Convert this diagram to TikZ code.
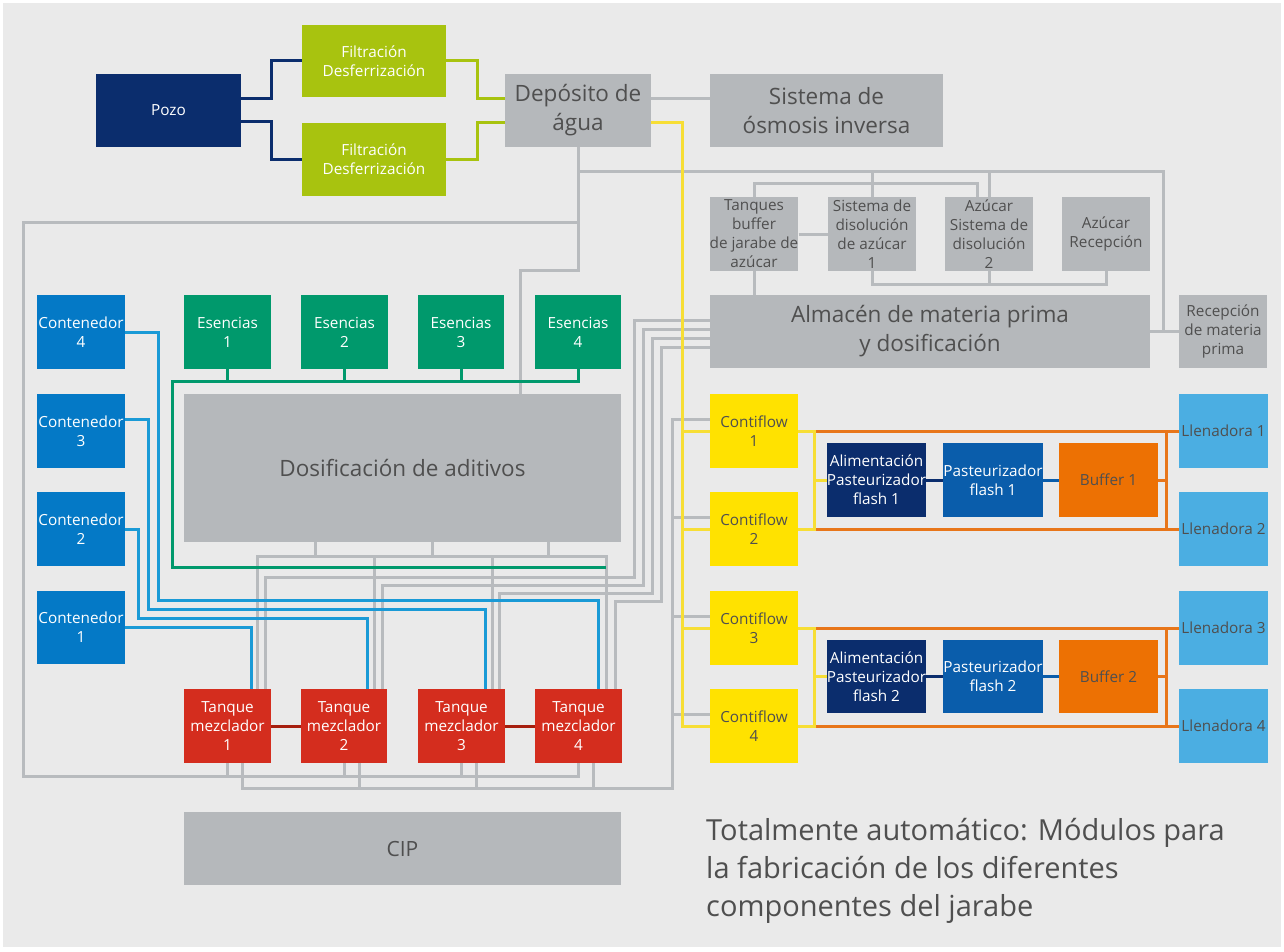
\documentclass[tikz,border=0pt]{standalone}
\usepackage{fontspec}
\setmainfont{Open Sans}
\definecolor{bgc}{HTML}{EAEAEA}
\definecolor{boxgray}{HTML}{B5B8BB}
\definecolor{linegray}{HTML}{B8BBBE}
\definecolor{txtgray}{HTML}{4F4F4F}
\definecolor{navy}{HTML}{0B2D6D}
\definecolor{lime}{HTML}{A8C30F}
\definecolor{esgreen}{HTML}{00996C}
\definecolor{contblue}{HTML}{0479C6}
\definecolor{pipeblue}{HTML}{1A9AD6}
\definecolor{tankred}{HTML}{D42D1E}
\definecolor{darkred}{HTML}{A61E0E}
\definecolor{cfyellow}{HTML}{FFE200}
\definecolor{pipeyellow}{HTML}{F7DE35}
\definecolor{orng}{HTML}{ED7103}
\definecolor{pipeorange}{HTML}{E8761A}
\definecolor{pastblue}{HTML}{0A5DAB}
\definecolor{fillblue}{HTML}{4BAEE2}
\newcommand\bx[7]{\node[#2, minimum width={(#5)-(#3)}, minimum height={(#6)-(#4)}] (#1) at ({((#3)+(#5))/2},{((#4)+(#6))/2}) {#7};}
\tikzset{
  box/.style={rectangle, inner sep=0pt, align=center, font=\fontsize{15.3}{19}\selectfont},
  wbox/.style={box, text=white},
  gbox/.style={box, fill=boxgray, text=txtgray},
  ybox/.style={box, fill=cfyellow, text=txtgray},
  bigtext/.style={font=\fontsize{22.5}{29}\selectfont},
  pipe/.style={line width=3pt},
  gpipe/.style={pipe, draw=linegray},
}
\begin{document}
\begin{tikzpicture}[x=1pt,y=-1pt]
\useasboundingbox (0,0) rectangle (1284,952);
\fill[white] (0,0) rectangle (1284,952);
\fill[bgc] (3,3) rectangle (1281,947);

% nodes
\bx{pozo}{wbox,fill=navy}{96}{74}{241}{147}{Pozo}
\bx{filta}{wbox,fill=lime}{302}{25}{446}{97}{Filtración\\Desferrización}
\bx{filtb}{wbox,fill=lime}{302}{123}{446}{196}{Filtración\\Desferrización}
\bx{dep}{gbox,bigtext}{505}{74}{651}{147}{Depósito de\\água}
\bx{osm}{gbox,bigtext}{710}{74}{943}{147}{Sistema de\\ósmosis inversa}
\bx{tb}{gbox}{710}{197}{798}{271}{Tanques\\buffer\\de jarabe de\\azúcar}
\bx{sisa}{gbox}{828}{197}{916}{271}{Sistema de\\disolución\\de azúcar\\1}
\bx{sisb}{gbox}{945}{197}{1033}{271}{Azúcar\\Sistema de\\disolución\\2}
\bx{azrec}{gbox}{1062}{197}{1150}{271}{Azúcar\\Recepción}
\bx{alm}{gbox,bigtext}{710}{295}{1150}{368}{Almacén de materia prima\\y dosificación}
\bx{rec}{gbox}{1179}{295}{1267}{368}{Recepción\\de materia\\prima}

\bx{cd}{wbox,fill=contblue}{37}{295}{125}{369}{Contenedor\\4}
\bx{cc}{wbox,fill=contblue}{37}{394}{125}{468}{Contenedor\\3}
\bx{cb}{wbox,fill=contblue}{37}{492}{125}{566}{Contenedor\\2}
\bx{ca}{wbox,fill=contblue}{37}{591}{125}{664}{Contenedor\\1}

\bx{ea}{wbox,fill=esgreen}{184}{295}{271}{369}{Esencias\\1}
\bx{eb}{wbox,fill=esgreen}{301}{295}{388}{369}{Esencias\\2}
\bx{ec}{wbox,fill=esgreen}{418}{295}{504}{369}{Esencias\\3}
\bx{ed}{wbox,fill=esgreen}{535}{295}{621}{369}{Esencias\\4}

\bx{dosif}{gbox,bigtext}{184}{394}{621}{542}{Dosificación de aditivos}

\bx{ta}{wbox,fill=tankred}{184}{689}{271}{763}{Tanque\\mezclador\\1}
\bx{tbb}{wbox,fill=tankred}{301}{689}{387}{763}{Tanque\\mezclador\\2}
\bx{tc}{wbox,fill=tankred}{418}{689}{505}{763}{Tanque\\mezclador\\3}
\bx{td}{wbox,fill=tankred}{535}{689}{622}{763}{Tanque\\mezclador\\4}

\bx{cip}{gbox,font=\fontsize{21}{26}\selectfont}{184}{812}{621}{885}{CIP}

\bx{cfa}{ybox}{710}{394}{798}{468}{Contiflow\\1}
\bx{cfb}{ybox}{710}{492}{798}{566}{Contiflow\\2}
\bx{cfc}{ybox}{710}{591}{798}{665}{Contiflow\\3}
\bx{cfd}{ybox}{710}{689}{798}{763}{Contiflow\\4}

\bx{aa}{wbox,fill=navy}{827}{443}{926}{517}{Alimentación\\Pasteurizador\\flash 1}
\bx{pa}{wbox,fill=pastblue}{944}{443}{1042}{517}{Pasteurizador\\flash 1}
\bx{ba}{box,fill=orng,text=txtgray}{1059}{443}{1158}{517}{Buffer 1}
\bx{ab}{wbox,fill=navy}{827}{640}{926}{713}{Alimentación\\Pasteurizador\\flash 2}
\bx{pb}{wbox,fill=pastblue}{944}{640}{1042}{713}{Pasteurizador\\flash 2}
\bx{bb}{box,fill=orng,text=txtgray}{1059}{640}{1158}{713}{Buffer 2}

\bx{la}{box,fill=fillblue,text=txtgray}{1179}{394}{1268}{468}{Llenadora 1}
\bx{lb}{box,fill=fillblue,text=txtgray}{1179}{492}{1268}{566}{Llenadora 2}
\bx{lc}{box,fill=fillblue,text=txtgray}{1179}{591}{1268}{665}{Llenadora 3}
\bx{ld}{box,fill=fillblue,text=txtgray}{1179}{689}{1268}{763}{Llenadora 4}

\node[anchor=north west, inner sep=0pt, align=left, text=txtgray,
      font=\fontsize{29}{38}\selectfont] (note) at (706,818)
  {Totalmente automático: Módulos para\\la fabricación de los diferentes\\componentes del jarabe};

\coordinate (gend) at (606,567);

% gray pipes
\begin{scope}[gpipe]
\draw (dep.east |- 0,99) -- (osm.west |- 0,99);
\draw (dep.south) -- (dep.south |- 0,270) -| (dosif.north -| 520,0);
\draw (dep.south |- 0,172) -| (alm.east -| 1163,0);
\draw (alm.east) -- (rec.west);
\draw (sisa.north |- 0,172) -- (sisa.north);
\draw (sisb.north |- 0,172) -- (sisb.north);
\draw (tb.north) |- (977,184) -- (sisb.north -| 977,0);
\draw (tb.east) -- (sisa.west);
\draw (tb.south) -- (tb.south |- alm.north);
\draw (sisa.south) |- (azrec.south |- 0,284) -- (azrec.south);
\draw (sisb.south) -- (sisb.south |- 0,284);
\draw (dep.south |- 0,222) -| (23,776) -| (td.south);
\draw (ta.south) -- (ta.south |- 0,776);
\draw (tbb.south) -- (tbb.south |- 0,776);
\draw (tc.south) -- (tc.south |- 0,776);
\draw ([xshift=15pt]ta.south) |- (672,788) |- ([yshift=12pt]cfa.west);
\draw ([xshift=15pt]tbb.south) -- ++(0,25);
\draw ([xshift=15pt]tc.south) -- ++(0,25);
\draw ([xshift=15pt]td.south) -- ++(0,25);
\draw ([yshift=12pt]cfb.west) -- ++(-38,0);
\draw ([yshift=12pt]cfc.west) -- ++(-38,0);
\draw ([yshift=12pt]cfd.west) -- ++(-38,0);
\draw (dosif.south -| 315,0) -- (315,556);
\draw (dosif.south -| 432,0) -- (432,556);
\draw (dosif.south -| 548,0) -- (548,556);
\draw (ta.north -| 257,0) -- (257,556) -- (606,556) -- (td.north -| 606,0);
\draw (tbb.north -| 374,0) -- (374,556);
\draw (tc.north -| 492,0) -- (492,556);
\draw (alm.west |- 0,320) -| (634,577) -| (ta.north -| 265,0);
\draw (alm.west |- 0,329) -| (643,585) -| (tbb.north -| 382,0);
\draw (alm.west |- 0,338) -| (652,593) -| (tc.north -| 499,0);
\draw (alm.west |- 0,347) -| (661,601) -| (td.north -| 615,0);
\end{scope}

% well water
\draw[pipe,navy] (pozo.east |- 0,99) -- (271,99) |- (filta.west);
\draw[pipe,navy] (pozo.east |- 0,122) -- (271,122) |- (filtb.west);
\draw[pipe,lime] (filta.east) -| (477,99) -- (dep.west |- 0,99);
\draw[pipe,lime] (filtb.east) -| (477,123) -- (dep.west |- 0,123);

% yellow water line
\draw[pipe,pipeyellow] (dep.east |- 0,123) -| (682,726) -- (cfd.west);
\draw[pipe,pipeyellow] (cfa.west) -- (cfa.west -| 682,0);
\draw[pipe,pipeyellow] (cfb.west) -- (cfb.west -| 682,0);
\draw[pipe,pipeyellow] (cfc.west) -- (cfc.west -| 682,0);

% essences
\draw[pipe,esgreen] (ed.south) |- (172,381) -- (172,567) -- (gend);
\draw[pipe,esgreen] (ea.south) -- (ea.south |- 0,381);
\draw[pipe,esgreen] (eb.south) -- (eb.south |- 0,381);
\draw[pipe,esgreen] (ec.south) -- (ec.south |- 0,381);

% containers
\draw[pipe,pipeblue] (cd.east) -| (158,600) -| (td.north -| 598,0);
\draw[pipe,pipeblue] (cc.east |- 0,419) -| (148,609) -| (tc.north -| 485,0);
\draw[pipe,pipeblue] (cb.east) -| (138,618) -| (tbb.north -| 367,0);
\draw[pipe,pipeblue] (ca.east) -| (ta.north -| 251,0);

% tanks
\draw[pipe,darkred] (ta.east) -- (tbb.west);
\draw[pipe,darkred] (tc.east) -- (td.west);

% filling lines
\draw[pipe,pipeorange] (cfa.east -| 814,0) -- (la.west);
\draw[pipe,pipeorange] (cfb.east -| 814,0) -- (lb.west);
\draw[pipe,pipeorange] (la.west -| 1166,0) -- (lb.west -| 1166,0);
\draw[pipe,pipeorange] (ba.east) -- (ba.east -| 1166,0);
\draw[pipe,pipeyellow] (cfa.east) -- (cfa.east -| 814,0) -- (cfb.east -| 814,0) -- (cfb.east);
\draw[pipe,pipeyellow] (aa.west -| 814,0) -- (aa.west);
\draw[pipe,navy] (aa.east) -- (pa.west);
\draw[pipe,pastblue] (pa.east) -- (ba.west);

\draw[pipe,pipeorange] (cfc.east -| 814,0) -- (lc.west);
\draw[pipe,pipeorange] (cfd.east -| 814,0) -- (ld.west);
\draw[pipe,pipeorange] (lc.west -| 1166,0) -- (ld.west -| 1166,0);
\draw[pipe,pipeorange] (bb.east) -- (bb.east -| 1166,0);
\draw[pipe,pipeyellow] (cfc.east) -- (cfc.east -| 814,0) -- (cfd.east -| 814,0) -- (cfd.east);
\draw[pipe,pipeyellow] (ab.west -| 814,0) -- (ab.west);
\draw[pipe,navy] (ab.east) -- (pb.west);
\draw[pipe,pastblue] (pb.east) -- (bb.west);
\end{tikzpicture}
\end{document}
